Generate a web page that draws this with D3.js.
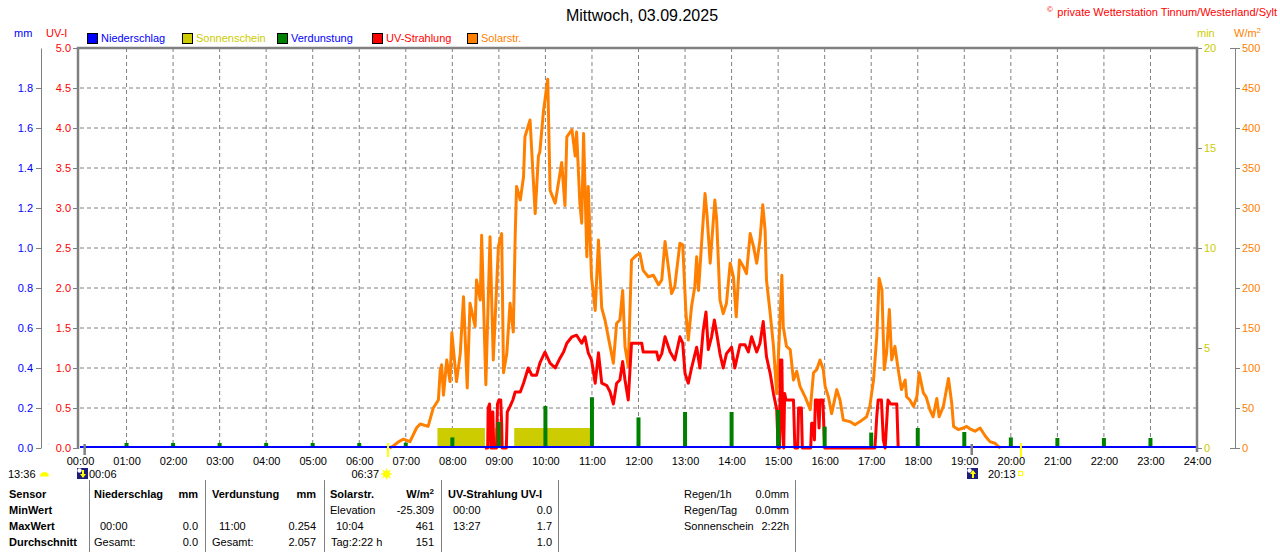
<!DOCTYPE html>
<html>
<head>
<meta charset="utf-8">
<script src="https://cdn.jsdelivr.net/npm/d3@7"></script>
<style>
  body { margin: 0; background: #fff; }
  svg text { font-family: "Liberation Sans", Arial, sans-serif; font-size: 11px; }
</style>
</head>
<body>
<div id="chart-container"></div>
<script>
/**************************************************
 * Data (03.09.2025)
 **************************************************/

const titleText = "Mittwoch, 03.09.2025";

// hour ticks along the bottom
const hourTicks = [0,1,2,3,4,5,6,7,8,9,10,11,12,13,14,15,16,17,18,19,20,21,22,23,24];
const hourLabels = ["00:00","01:00","02:00","03:00","04:00","05:00","06:00","07:00","08:00","09:00","10:00","11:00",
  "12:00","13:00","14:00","15:00","16:00","17:00","18:00","19:00","20:00","21:00","22:00","23:00","24:00"];

// axis ticks
const uvTicks = [0,0.5,1,1.5,2,2.5,3,3.5,4,4.5,5];
const mmTicks = [0,0.2,0.4,0.6,0.8,1.0,1.2,1.4,1.6,1.8];
const minTicks = [0,5,10,15,20];
const solarTicks = [0,50,100,150,200,250,300,350,400,450,500];

// Solarstrahlung W/m² : [hour, value]
const solarData = [
  [6.65,0],[6.73,2.5],[6.85,8],[6.95,11],[7.09,8],[7.23,25],[7.31,30],[7.48,27],[7.59,50],[7.70,60],
  [7.74,97],[7.77,104],[7.81,66],[7.88,110],[7.95,83],[7.99,144],[8.09,83],[8.17,118],[8.24,189],[8.32,75],
  [8.38,181],[8.49,152],[8.52,210],[8.60,185],[8.63,266],[8.72,79],[8.81,264],[8.88,110],[8.99,252],[9.06,268],
  [9.10,94],[9.17,118],[9.24,181],[9.31,145],[9.35,264],[9.38,327],[9.46,310],[9.53,339],[9.56,389],[9.67,410],
  [9.74,335],[9.78,293],[9.85,365],[9.88,370],[9.96,422],[10.05,461],[10.10,322],[10.21,306],[10.35,357],[10.42,303],
  [10.46,389],[10.57,398],[10.64,365],[10.67,395],[10.74,306],[10.78,281],[10.82,393],[10.89,239],[10.92,327],[10.99,214],
  [11.07,172],[11.14,260],[11.21,175],[11.28,160],[11.39,127],[11.46,106],[11.53,156],[11.60,160],[11.66,197],[11.71,127],
  [11.78,102],[11.85,235],[11.96,241],[12.03,243],[12.10,222],[12.21,214],[12.32,216],[12.43,204],[12.50,210],[12.57,258],
  [12.64,227],[12.71,193],[12.78,202],[12.89,256],[12.95,254],[13.02,168],[13.07,135],[13.14,177],[13.21,202],[13.25,239],
  [13.29,197],[13.36,260],[13.43,318],[13.47,293],[13.54,231],[13.64,310],[13.68,285],[13.75,185],[13.82,168],[13.89,181],
  [13.97,231],[14.04,214],[14.10,164],[14.17,235],[14.25,227],[14.32,218],[14.40,268],[14.47,252],[14.54,231],[14.61,260],
  [14.67,304],[14.72,272],[14.75,210],[14.83,168],[14.90,127],[14.97,68],[15.04,160],[15.08,216],[15.11,152],[15.18,127],
  [15.26,123],[15.33,85],[15.40,96],[15.47,77],[15.58,64],[15.69,48],[15.76,94],[15.83,98],[15.90,110],[15.97,98],
  [16.01,77],[16.08,64],[16.15,43],[16.26,73],[16.33,60],[16.40,35],[16.54,33],[16.65,29],[16.76,33],[16.90,39],
  [16.97,52],[17.05,85],[17.12,140],[17.17,212],[17.23,198],[17.28,98],[17.33,119],[17.39,173],[17.44,110],[17.51,127],
  [17.58,98],[17.65,73],[17.73,85],[17.76,64],[17.83,60],[17.91,52],[17.98,64],[18.03,94],[18.12,69],[18.18,64],
  [18.26,48],[18.33,39],[18.41,62],[18.46,39],[18.55,52],[18.66,87],[18.73,56],[18.77,27],[18.87,23],[18.98,25],
  [19.05,27],[19.12,24],[19.23,21],[19.34,25],[19.45,15],[19.55,8],[19.66,6],[19.73,2],[19.78,0]
];

// UV-Strahlung UV-I : [hour, value]
const uvData = [
  [8.70,0],[8.76,0],[8.77,0.5],[8.80,0.55],[8.82,0.3],[8.83,0],[8.86,0],[8.87,0.45],[8.89,0],[8.95,0],
  [8.97,0.55],[9.00,0.6],[9.04,0.6],[9.06,0.3],[9.07,0],[9.16,0],[9.18,0.45],[9.24,0.52],[9.30,0.6],[9.35,0.7],
  [9.46,0.7],[9.53,0.81],[9.63,1.0],[9.71,0.91],[9.81,0.91],[9.88,1.06],[9.99,1.2],[10.10,1.06],[10.21,1.0],[10.31,1.12],
  [10.39,1.2],[10.46,1.31],[10.57,1.39],[10.67,1.41],[10.78,1.31],[10.85,1.39],[10.92,1.19],[10.99,1.1],[11.07,0.81],[11.14,1.19],
  [11.21,0.81],[11.32,0.78],[11.39,0.7],[11.46,0.55],[11.53,0.81],[11.60,0.85],[11.66,1.08],[11.71,0.85],[11.78,0.6],[11.85,1.31],
  [12.07,1.31],[12.10,1.2],[12.39,1.2],[12.43,1.1],[12.50,1.18],[12.57,1.39],[12.68,1.2],[12.78,1.1],[12.89,1.39],[12.95,1.31],
  [13.00,0.93],[13.07,0.81],[13.14,1.0],[13.25,1.26],[13.32,1.0],[13.39,1.47],[13.45,1.7],[13.50,1.23],[13.57,1.39],[13.63,1.6],
  [13.68,1.43],[13.75,1.18],[13.82,1.0],[13.89,1.18],[14.00,1.26],[14.07,1.0],[14.18,1.29],[14.29,1.29],[14.36,1.2],[14.43,1.39],
  [14.54,1.2],[14.61,1.31],[14.68,1.58],[14.75,1.14],[14.83,0.93],[14.90,0.68],[14.97,0.48],[15.00,0],[15.03,0],[15.05,1.1],
  [15.08,1.1],[15.10,0.2],[15.12,0],[15.14,0.68],[15.17,0.6],[15.33,0.6],[15.36,0],[15.42,0],[15.44,0.5],[15.50,0.5],
  [15.52,0],[15.70,0],[15.72,0.31],[15.76,0.31],[15.78,0.1],[15.80,0.6],[15.85,0.6],[15.88,0.25],[15.90,0.6],[15.96,0.6],
  [16.00,0],[17.08,0],[17.12,0.4],[17.15,0.6],[17.22,0.6],[17.26,0.1],[17.30,0],[17.33,0.3],[17.36,0.6],[17.42,0.55],
  [17.55,0.55],[17.58,0]
];

// Verdunstung mm per hour
const evapHours = [1,2,3,4,5,6,7,8,9,10,11,12,13,14,15,16,17,18,19,20,21,22,23];
const evapValues = [0.025,0.025,0.025,0.025,0.025,0.025,0.027,0.053,0.13,0.21,0.254,0.153,0.18,0.18,0.19,0.107,0.077,0.10,0.08,0.053,0.05,0.05,0.05];

// Niederschlag mm (no rain today)
const rainHours = [0,24];
const rainValues = [0,0];

// Sonnenschein min/min : [from hour, to hour]
const sunStarts = [7.68, 8.74, 8.92, 9.33];
const sunEnds   = [8.70, 8.79, 9.03, 10.96];
const sunValue = 1;

// sun / moon times (hours)
const sunrise = 6.617, sunset = 20.217;
const moonset = 0.1, moonrise = 19.16;

// legend
const legendNames  = ["Niederschlag","Sonnenschein","Verdunstung","UV-Strahlung","Solarstr."];
const legendFill   = ["#0000ff","#cccc00","#008000","#ff0000","#ff8000"];
const legendText   = ["#0000ff","#cccc00","#0000ff","#ff0000","#ff8000"];

// statistics table
const tableRows = ["Sensor","MinWert","MaxWert","Durchschnitt"];
const rainStats  = { max: ["00:00","0.0"], avg: ["Gesamt:","0.0"] };
const evapStats  = { max: ["11:00","0.254"], avg: ["Gesamt:","2.057"] };
const solarStats = { min: ["Elevation","-25.309"], max: ["10:04","461"], avg: ["Tag:2:22 h","151"] };
const uvStats    = { min: ["00:00","0.0"], max: ["13:27","1.7"], avg: ["","1.0"] };
const summaryLabels = ["Regen/1h","Regen/Tag","Sonnenschein"];
const summaryValues = ["0.0mm","0.0mm","2:22h"];

/**************************************************
 * Rendering
 **************************************************/

const W = 1280, H = 552;
const svg = d3.select("#chart-container").append("svg")
  .attr("width", W).attr("height", H);

svg.append("rect").attr("width", W).attr("height", H).attr("fill", "#fff");

const x = d3.scaleLinear().domain([0, 24]).range([80, 1197]);
const yUV = d3.scaleLinear().domain([0, 5]).range([448, 48]);
const yMm = d3.scaleLinear().domain([0, 2]).range([448, 48]);
const yMin = d3.scaleLinear().domain([0, 20]).range([448, 48]);
const ySol = d3.scaleLinear().domain([0, 500]).range([448, 48]);

const grey = "#808080";

// dashed grid
svg.append("g").selectAll("line.h")
  .data(uvTicks.filter(d => d > 0 && d < 5))
  .enter().append("line")
  .attr("x1", 80).attr("x2", 1197)
  .attr("y1", d => yUV(d)).attr("y2", d => yUV(d))
  .attr("stroke", grey).attr("stroke-dasharray", "4,3");

svg.append("g").selectAll("line.v")
  .data(hourTicks.filter(d => d > 0 && d < 24))
  .enter().append("line")
  .attr("x1", d => x(d)).attr("x2", d => x(d))
  .attr("y1", 48).attr("y2", 448)
  .attr("stroke", grey).attr("stroke-dasharray", "4,3");

// Sonnenschein blocks
svg.append("g").selectAll("rect")
  .data(sunStarts)
  .enter().append("rect")
  .attr("x", d => x(d))
  .attr("width", (d, i) => x(sunEnds[i]) - x(d))
  .attr("y", yMin(sunValue))
  .attr("height", yMin(0) - yMin(sunValue))
  .attr("fill", "#cccc00");

// Solarstrahlung
svg.append("path")
  .datum(solarData)
  .attr("d", d3.line().x(d => x(d[0])).y(d => ySol(d[1])))
  .attr("fill", "none")
  .attr("stroke", "#ff8000")
  .attr("stroke-width", 3)
  .attr("stroke-linejoin", "round");

// UV
svg.append("path")
  .datum(uvData)
  .attr("d", d3.line().x(d => x(d[0])).y(d => yUV(d[1])))
  .attr("fill", "none")
  .attr("stroke", "#ff0000")
  .attr("stroke-width", 3)
  .attr("stroke-linejoin", "round");

// Verdunstung bars
svg.append("g").selectAll("rect")
  .data(evapHours)
  .enter().append("rect")
  .attr("x", d => x(d) - 2)
  .attr("width", 4)
  .attr("y", (d, i) => yMm(evapValues[i]))
  .attr("height", (d, i) => yMm(0) - yMm(evapValues[i]))
  .attr("fill", "#008000");

// Niederschlag line
svg.append("path")
  .datum(rainHours.map((h, i) => [h, rainValues[i]]))
  .attr("d", d3.line().x(d => x(d[0])).y(d => yMm(d[1]) - 1))
  .attr("stroke", "#0000ff")
  .attr("stroke-width", 2);

// sunrise / sunset and moon markers on the time axis
[sunrise, sunset].forEach(t => {
  svg.append("line").attr("x1", x(t)).attr("x2", x(t)).attr("y1", 443).attr("y2", 457)
    .attr("stroke", "#ffff00").attr("stroke-width", 2);
});
[moonset, moonrise].forEach(t => {
  svg.append("line").attr("x1", x(t)).attr("x2", x(t)).attr("y1", 444).attr("y2", 455)
    .attr("stroke", grey).attr("stroke-width", 2.5);
});

// frame
svg.append("path")
  .attr("d", "M78,449V48H1197V452")
  .attr("fill", "none")
  .attr("stroke", grey)
  .attr("stroke-width", 2.5);

// axes
function styleAxis(g, color) {
  g.selectAll(".tick line").attr("stroke", grey);
  g.selectAll(".tick text").attr("fill", color).style("font-size", "11px")
    .style("font-family", "'Liberation Sans', Arial, sans-serif");
  g.select(".domain").attr("stroke", grey);
}

const uvAxis = svg.append("g").attr("transform", "translate(77,0)")
  .call(d3.axisLeft(yUV).tickValues(uvTicks).tickSize(4).tickSizeOuter(0).tickPadding(2).tickFormat(d3.format(".1f")));
styleAxis(uvAxis, "#ff0000");
uvAxis.select(".domain").remove();

const mmAxis = svg.append("g").attr("transform", "translate(41,0)")
  .call(d3.axisLeft(yMm).tickValues(mmTicks).tickSize(5).tickSizeOuter(0).tickPadding(3).tickFormat(d3.format(".1f")));
styleAxis(mmAxis, "#0000ff");

const minAxis = svg.append("g").attr("transform", "translate(1197,0)")
  .call(d3.axisRight(yMin).tickValues(minTicks).tickSize(5).tickSizeOuter(0).tickPadding(2));
styleAxis(minAxis, "#cccc00");
minAxis.select(".domain").remove();

const solAxis = svg.append("g").attr("transform", "translate(1235,0)")
  .call(d3.axisRight(ySol).tickValues(solarTicks).tickSize(5).tickSizeOuter(0).tickPadding(2));
styleAxis(solAxis, "#ff8000");
solAxis.selectAll(".tick").filter(d => d === 0 || d === 500)
  .append("line").attr("x1", -5).attr("x2", 0).attr("stroke", grey);

const timeAxis = svg.append("g").attr("transform", "translate(0,448)")
  .call(d3.axisBottom(x).tickValues(hourTicks).tickSize(0).tickPadding(9).tickFormat((d, i) => hourLabels[i]));
styleAxis(timeAxis, "#000");
timeAxis.select(".domain").remove();

// axis titles
const txt = (xx, yy, s, color, anchor, weight, size) =>
  svg.append("text").attr("x", xx).attr("y", yy).attr("fill", color || "#000")
    .attr("text-anchor", anchor || "start")
    .attr("font-weight", weight || "normal")
    .style("font-size", (size || 11) + "px")
    .text(s);

txt(14, 37, "mm", "#0000ff");
txt(46, 37, "UV-I", "#ff0000");
txt(1197, 37, "min", "#cccc00");
svg.append("text").attr("x", 1234).attr("y", 37).attr("fill", "#ff8000").style("font-size", "11px")
  .text("W/m").append("tspan").attr("dy", -4).style("font-size", "8px").text("2");

// title and copyright
txt(642, 21, titleText, "#000", "middle", "normal", 16);
svg.append("text").attr("x", 1277).attr("y", 16).attr("fill", "#ff0000").attr("text-anchor", "end")
  .style("font-size", "11px")
  .text("private Wetterstation Tinnum/Westerland/Sylt");
txt(1047, 12, "©", "#ff0000", "start", "normal", 8);

// legend
legendNames.forEach((name, i) => {
  const lx = 87 + i * 95;
  svg.append("rect").attr("x", lx + 0.5).attr("y", 33.5).attr("width", 10).attr("height", 10)
    .attr("fill", legendFill[i]).attr("stroke", "#000");
  txt(lx + 14, 42, name, legendText[i]);
});

// sun / moon info row
txt(8, 478, "13:36");
svg.append("path")
  .attr("d", d3.arc()({ innerRadius: 0, outerRadius: 4.5, startAngle: -Math.PI / 2, endAngle: Math.PI / 2 }))
  .attr("transform", "translate(44.5,476.5)").attr("fill", "#ffff00");

function moonIcon(cx, up) {
  const g = svg.append("g").attr("transform", `translate(${cx},468)`);
  g.append("rect").attr("width", 11).attr("height", 11).attr("fill", "#1c1c7a");
  g.append("circle").attr("cx", 2.5).attr("cy", 2.5).attr("r", 2.2).attr("fill", "#fff");
  g.append("path")
    .attr("d", up ? "M6,2L9,6H7V10H5V6H3Z" : "M6,10L9,6H7V2H5V6H3Z")
    .attr("fill", "#ffff00");
}
moonIcon(77, false);
txt(89, 478, "00:06");

txt(379, 478, "06:37", "#000", "end");
const sunG = svg.append("g").attr("transform", "translate(386.5,474)");
d3.range(8).forEach(k => {
  const a = k * Math.PI / 4;
  sunG.append("line").attr("x1", 3 * Math.cos(a)).attr("y1", 3 * Math.sin(a))
    .attr("x2", 5.5 * Math.cos(a)).attr("y2", 5.5 * Math.sin(a))
    .attr("stroke", "#ffff00").attr("stroke-width", 1.2);
});
sunG.append("circle").attr("r", 3.5).attr("fill", "#ffff00");

moonIcon(967, true);
txt(988, 478, "20:13");
svg.append("rect").attr("x", 1018.5).attr("y", 471.5).attr("width", 4).attr("height", 4)
  .attr("fill", "none").attr("stroke", "#ffff00");

// statistics table
const rowY = [498, 514, 530, 546];
[89, 205, 324, 441, 558, 795].forEach(dx => {
  svg.append("line").attr("x1", dx + 0.5).attr("x2", dx + 0.5).attr("y1", 480).attr("y2", 552)
    .attr("stroke", grey);
});
tableRows.forEach((r, i) => txt(9, rowY[i], r, "#000", "start", "bold"));

txt(94, rowY[0], "Niederschlag", "#000", "start", "bold");
txt(198, rowY[0], "mm", "#000", "end", "bold");
txt(100, rowY[2], rainStats.max[0]); txt(198, rowY[2], rainStats.max[1], "#000", "end");
txt(94, rowY[3], rainStats.avg[0]); txt(198, rowY[3], rainStats.avg[1], "#000", "end");

txt(212, rowY[0], "Verdunstung", "#000", "start", "bold");
txt(316, rowY[0], "mm", "#000", "end", "bold");
txt(219, rowY[2], evapStats.max[0]); txt(316, rowY[2], evapStats.max[1], "#000", "end");
txt(212, rowY[3], evapStats.avg[0]); txt(316, rowY[3], evapStats.avg[1], "#000", "end");

txt(330, rowY[0], "Solarstr.", "#000", "start", "bold");
svg.append("text").attr("x", 434).attr("y", rowY[0]).attr("text-anchor", "end").attr("font-weight", "bold")
  .style("font-size", "11px").text("W/m").append("tspan").attr("dy", -4).style("font-size", "8px").text("2");
txt(330, rowY[1], solarStats.min[0]); txt(434, rowY[1], solarStats.min[1], "#000", "end");
txt(336, rowY[2], solarStats.max[0]); txt(434, rowY[2], solarStats.max[1], "#000", "end");
txt(331, rowY[3], solarStats.avg[0]); txt(434, rowY[3], solarStats.avg[1], "#000", "end");

txt(448, rowY[0], "UV-Strahlung UV-I", "#000", "start", "bold");
txt(453, rowY[1], uvStats.min[0]); txt(552, rowY[1], uvStats.min[1], "#000", "end");
txt(453, rowY[2], uvStats.max[0]); txt(552, rowY[2], uvStats.max[1], "#000", "end");
txt(552, rowY[3], uvStats.avg[1], "#000", "end");

summaryLabels.forEach((s, i) => {
  txt(684, rowY[i], s);
  txt(789, rowY[i], summaryValues[i], "#000", "end");
});
</script>
</body>
</html>
